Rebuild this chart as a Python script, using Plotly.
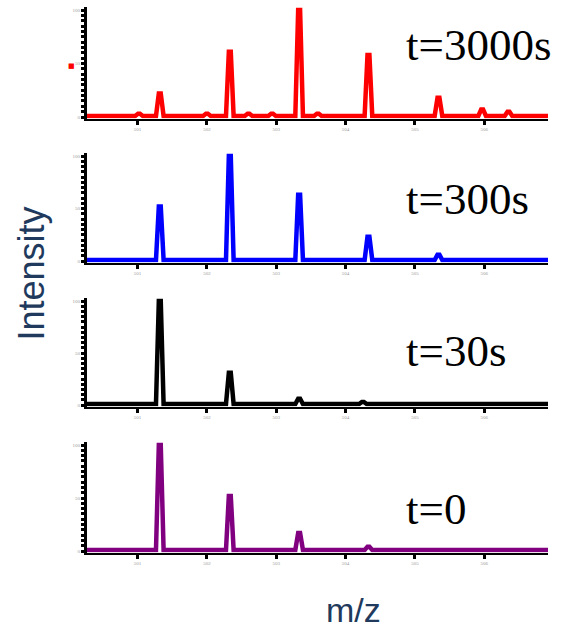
import plotly.graph_objects as go

# ---- data ----
mz_ticks = [501, 502, 503, 504, 505, 506]
mz_tick_text = ["501", "502", "503", "504", "505", "506"]
mz_range = [500.27, 506.92]
int_ticks = [0, 50, 100]
int_tick_text = ["0", "50", "100"]

labels = ["t=3000s", "t=300s", "t=30s", "t=0"]
colors = ["#ff0000", "#0000ff", "#000000", "#800080"]

peaks_3000s_mz = [501.02, 501.32, 502.00, 502.33, 502.60, 502.94, 503.33, 503.60, 504.33, 505.34, 505.97, 506.35]
peaks_3000s_int = [3, 22, 3, 61, 3, 3, 100, 3, 58, 18, 7, 5]

peaks_300s_mz = [501.32, 502.33, 503.33, 504.33, 505.34]
peaks_300s_int = [52, 100, 63, 23, 6]

peaks_30s_mz = [501.32, 502.33, 503.33, 504.25]
peaks_30s_int = [100, 31, 6, 3]

peaks_0_mz = [501.32, 502.33, 503.33, 504.33, 505.28]
peaks_0_int = [100, 52, 17, 4, 2]

baseline_level = 1.0
artifact_mz = 500.05
artifact_int = 48

series_mz = [peaks_3000s_mz, peaks_300s_mz, peaks_30s_mz, peaks_0_mz]
series_int = [peaks_3000s_int, peaks_300s_int, peaks_30s_int, peaks_0_int]

# ---- layout constants (pixels in the 561x631 page) ----
W, H = 561, 631
panel_px = [(10, 117), (156, 261), (301, 405), (445, 551)]  # (y of 100, y of 0)
x_left_px, x_right_px = 87, 548
y_lo, y_hi = -1.5, 103
half_w, top_w = 0.055, 0.014


def spectrum(mz, inten):
    xs = [mz_range[0]]
    ys = [baseline_level]
    for c, h in sorted(zip(mz, inten)):
        xs += [c - half_w, c - top_w, c + top_w, c + half_w]
        ys += [baseline_level, h, h, baseline_level]
    xs.append(mz_range[1])
    ys.append(baseline_level)
    return xs, ys


fig = go.Figure()
layout_axes = {}
annotations = []
domains_y = []
for i in range(4):
    n = "" if i == 0 else str(i + 1)
    xs, ys = spectrum(series_mz[i], series_int[i])
    fig.add_trace(go.Scatter(x=xs, y=ys, mode="lines",
                             line=dict(color=colors[i], width=4.5),
                             xaxis="x" + n, yaxis="y" + n,
                             showlegend=False, hoverinfo="skip"))
    p100, p0 = panel_px[i]
    per = (p0 - p100) / 100.0
    top_px = p0 - (y_hi) * per
    bot_px = p0 - (y_lo) * per
    dom_y = [1 - bot_px / H, 1 - top_px / H]
    domains_y.append(dom_y)
    layout_axes["xaxis" + n] = dict(
        domain=[x_left_px / W, x_right_px / W], range=mz_range,
        anchor="y" + n, showline=True, linecolor="black", linewidth=2,
        ticks="outside", ticklen=4, tickwidth=3, tickcolor="black",
        tickvals=mz_ticks, ticktext=mz_tick_text,
        tickfont=dict(size=5, color="#999999", family="Liberation Serif"),
        showgrid=False, zeroline=False, fixedrange=True)
    layout_axes["yaxis" + n] = dict(
        domain=dom_y, range=[y_lo, y_hi],
        anchor="x" + n, showline=True, linecolor="black", linewidth=3,
        ticks="outside", ticklen=3, tickwidth=2.5, tickcolor="black",
        tickvals=int_ticks, ticktext=int_tick_text,
        tickfont=dict(size=5, color="#999999", family="Liberation Serif"),
        minor=dict(dtick=5, ticks="outside", ticklen=3, tickwidth=2.5, tickcolor="black"),
        showgrid=False, zeroline=False, fixedrange=True)

# small red stray mark left of the top panel (data -> paper through the axis mapping)
ax_x0, ax_x1 = x_left_px / W, x_right_px / W
art_px = ax_x0 + (artifact_mz - mz_range[0]) / (mz_range[1] - mz_range[0]) * (ax_x1 - ax_x0)
d0, d1 = domains_y[0]
art_py = d0 + (artifact_int - y_lo) / (y_hi - y_lo) * (d1 - d0)
annotations.append(dict(text="■", xref="paper", yref="paper", x=art_px, y=art_py,
                        showarrow=False, xanchor="center", yanchor="middle",
                        font=dict(size=7, color="#ff0000", family="DejaVu Sans")))

label_y_px = [45, 199, 351, 509]
for i in range(4):
    annotations.append(dict(text=labels[i], xref="paper", yref="paper",
                            x=404 / W, y=1 - label_y_px[i] / H,
                            xanchor="left", yanchor="middle", showarrow=False,
                            font=dict(family="Liberation Serif", size=45, color="black")))

annotations.append(dict(text="Intensity", xref="paper", yref="paper",
                        x=31 / W, y=1 - 273.5 / H, textangle=-90,
                        xanchor="center", yanchor="middle", showarrow=False,
                        font=dict(family="Liberation Sans", size=36, color="#1f3a5c")))
annotations.append(dict(text="m/z", xref="paper", yref="paper",
                        x=353.5 / W, y=0,
                        xanchor="center", yanchor="bottom", showarrow=False,
                        font=dict(family="Liberation Sans", size=34, color="#1f3a5c")))

fig.update_layout(width=W, height=H, margin=dict(l=0, r=0, t=0, b=0),
                  paper_bgcolor="white", plot_bgcolor="white",
                  annotations=annotations, **layout_axes)

fig.write_html("out.html", config={"displayModeBar": False},
               post_script="document.body.style.margin='0';document.body.style.overflow='hidden';")
